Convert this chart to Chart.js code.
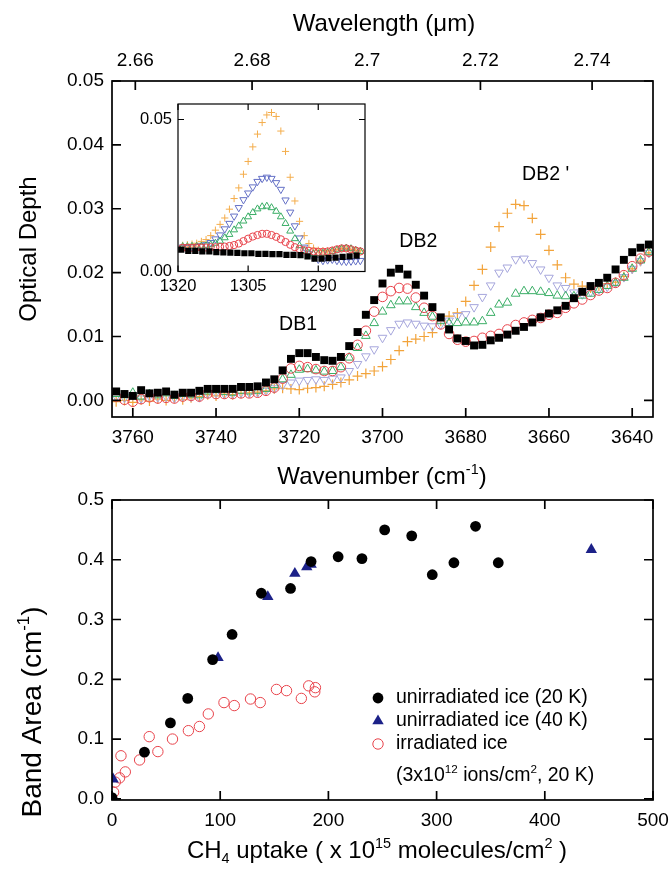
<!DOCTYPE html>
<html>
<head>
<meta charset="utf-8">
<script src="https://cdn.jsdelivr.net/npm/chart.js@4.4.1/dist/chart.umd.min.js"></script>
<style>
  html, body { margin: 0; padding: 0; background: #fff; }
  #wrap { position: relative; width: 672px; height: 871px; overflow: hidden; }
  canvas { position: absolute; }
</style>
</head>
<body>
<div id="wrap">
  <canvas id="spec" style="left:0;top:0" width="672" height="492"></canvas>
  <canvas id="area" style="left:0;top:488px" width="672" height="383"></canvas>
  <canvas id="inset" style="left:118px;top:88px" width="257" height="215"></canvas>
</div>
<script>
const FAMILY = '"Liberation Sans", Arial, sans-serif';

// ---- top panel: spectra (wavenumber in cm-1, optical depth) ----
const wavenumber = [
  3764, 3762, 3760, 3758, 3756, 3754, 3752, 3750, 3748, 3746,
  3744, 3742, 3740, 3738, 3736, 3734, 3732, 3730, 3728, 3726,
  3724, 3722, 3720, 3718, 3716, 3714, 3712, 3710, 3708, 3706,
  3704, 3702, 3700, 3698, 3696, 3694, 3692, 3690, 3688, 3686,
  3684, 3682, 3680, 3678, 3676, 3674, 3672, 3670, 3668, 3666,
  3664, 3662, 3660, 3658, 3656, 3654, 3652, 3650, 3648, 3646,
  3644, 3642, 3640, 3638, 3636
];
const odSquares = [
  0.0014, 0.0010, 0.0007, 0.0016, 0.0011, 0.0012, 0.0014, 0.0009, 0.0012, 0.0012,
  0.0015, 0.0018, 0.0018, 0.0018, 0.0018, 0.0021, 0.0021, 0.0022, 0.0028, 0.0033,
  0.0047, 0.0065, 0.0074, 0.0074, 0.0068, 0.0063, 0.0062, 0.0068, 0.0085, 0.0107,
  0.0134, 0.0157, 0.0183, 0.0200, 0.0206, 0.0197, 0.0181, 0.0164, 0.0146, 0.0130,
  0.0111, 0.0097, 0.0093, 0.0086, 0.0087, 0.0094, 0.0098, 0.0103, 0.0109, 0.0115,
  0.0122, 0.0130, 0.0136, 0.0141, 0.0148, 0.0160, 0.0170, 0.0179, 0.0184, 0.0192,
  0.0205, 0.0220, 0.0232, 0.0239, 0.0244
];
const odCircles = [
  0.0006, 0.0001, -0.0002, 0.0002, 0.0005, 0.0003, 0.0004, 0.0003, 0.0006, 0.0007,
  0.0006, 0.0011, 0.0010, 0.0010, 0.0010, 0.0011, 0.0011, 0.0012, 0.0015, 0.0020,
  0.0034, 0.0050, 0.0054, 0.0052, 0.0049, 0.0046, 0.0046, 0.0052, 0.0066, 0.0087,
  0.0109, 0.0139, 0.0162, 0.0171, 0.0176, 0.0175, 0.0161, 0.0145, 0.0132, 0.0119,
  0.0104, 0.0095, 0.0092, 0.0093, 0.0098, 0.0101, 0.0104, 0.0111, 0.0118, 0.0122,
  0.0126, 0.0129, 0.0134, 0.0137, 0.0145, 0.0152, 0.0158, 0.0165, 0.0172, 0.0176,
  0.0184, 0.0196, 0.0210, 0.0222, 0.0233
];
const odUpTri = [
  0.0010, 0.0008, 0.0012, 0.0006, 0.0010, 0.0008, 0.0011, 0.0007, 0.0010, 0.0009,
  0.0008, 0.0014, 0.0016, 0.0013, 0.0012, 0.0015, 0.0014, 0.0015, 0.0018, 0.0024,
  0.0033, 0.0040, 0.0048, 0.0049, 0.0047, 0.0045, 0.0046, 0.0052, 0.0067, 0.0082,
  0.0101, 0.0121, 0.0139, 0.0149, 0.0155, 0.0155, 0.0146, 0.0137, 0.0131, 0.0124,
  0.0121, 0.0121, 0.0122, 0.0122, 0.0124, 0.0137, 0.0150, 0.0153, 0.0167, 0.0171,
  0.0171, 0.0170, 0.0168, 0.0164, 0.0163, 0.0163, 0.0164, 0.0167, 0.0173, 0.0179,
  0.0184, 0.0192, 0.0206, 0.0219, 0.0232
];
const odDownTri = [
  0.0006, 0.0004, 0.0008, 0.0003, 0.0007, 0.0005, 0.0006, 0.0004, 0.0007, 0.0006,
  0.0005, 0.0011, 0.0012, 0.0010, 0.0010, 0.0012, 0.0012, 0.0013, 0.0015, 0.0019,
  0.0024, 0.0028, 0.0031, 0.0032, 0.0033, 0.0032, 0.0034, 0.0036, 0.0046, 0.0057,
  0.0069, 0.0080, 0.0098, 0.0110, 0.0120, 0.0122, 0.0120, 0.0117, 0.0116, 0.0119,
  0.0125, 0.0132, 0.0135, 0.0146, 0.0162, 0.0180, 0.0200, 0.0208, 0.0221, 0.0222,
  0.0215, 0.0205, 0.0192, 0.0180, 0.0176, 0.0169, 0.0166, 0.0170, 0.0174, 0.0178,
  0.0184, 0.0193, 0.0206, 0.0218, 0.0231
];
const odPlus = [
  -0.0002, 0.0000, -0.0003, 0.0001, -0.0001, 0.0002, 0.0000, 0.0003, 0.0001, 0.0004,
  0.0006, 0.0009, 0.0007, 0.0010, 0.0009, 0.0011, 0.0012, 0.0013, 0.0015, 0.0018,
  0.0019, 0.0018, 0.0017, 0.0019, 0.0020, 0.0022, 0.0025, 0.0028, 0.0032, 0.0038,
  0.0042, 0.0046, 0.0053, 0.0064, 0.0078, 0.0092, 0.0096, 0.0100, 0.0106, 0.0124,
  0.0132, 0.0137, 0.0155, 0.0180, 0.0205, 0.0240, 0.0272, 0.0293, 0.0307, 0.0305,
  0.0285, 0.0260, 0.0235, 0.0212, 0.0192, 0.0182, 0.0179, 0.0176, 0.0179, 0.0183,
  0.0185, 0.0194, 0.0206, 0.0218, 0.0231
];
const wnTicks = [3760, 3740, 3720, 3700, 3680, 3660, 3640];
const wlTicks = [2.66, 2.68, 2.70, 2.72, 2.74];
const odTicks = [0, 0.01, 0.02, 0.03, 0.04, 0.05];
const bandNames = ['DB1', 'DB2', "DB2 '"];
const bandX = [3720.3, 3691.4, 3660.8];
const bandY = [0.0119, 0.0248, 0.0354];

// ---- inset: 1300 cm-1 band ----
const insetNu = [
  1319, 1318, 1317, 1316, 1315, 1314, 1313, 1312, 1311, 1310,
  1309, 1308, 1307, 1306, 1305, 1304, 1303, 1302, 1301, 1300,
  1299, 1298, 1297, 1296, 1295, 1294, 1293, 1292, 1291, 1290,
  1289, 1288, 1287, 1286, 1285, 1284, 1283, 1282, 1281
];
const insetPlus = [
  0.0086, 0.0088, 0.0090, 0.0093, 0.0099, 0.0105, 0.0118, 0.0136, 0.0155, 0.0176,
  0.0205, 0.0240, 0.0275, 0.0320, 0.0362, 0.0410, 0.0452, 0.0490, 0.0515, 0.0523,
  0.0510, 0.0462, 0.0395, 0.0310, 0.0232, 0.0165, 0.0118, 0.0092, 0.0077, 0.0070,
  0.0068, 0.0068, 0.0070, 0.0072, 0.0075, 0.0075, 0.0072, 0.0070, 0.0068
];
const insetDownTri = [
  0.0080, 0.0080, 0.0081, 0.0082, 0.0084, 0.0088, 0.0095, 0.0107, 0.0120, 0.0140,
  0.0158, 0.0182, 0.0210, 0.0236, 0.0258, 0.0278, 0.0296, 0.0306, 0.0310, 0.0306,
  0.0292, 0.0270, 0.0235, 0.0195, 0.0150, 0.0110, 0.0080, 0.0058, 0.0046, 0.0040,
  0.0036, 0.0038, 0.0040, 0.0036, 0.0034, 0.0033, 0.0034, 0.0035, 0.0036
];
const insetUpTri = [
  0.0082, 0.0082, 0.0083, 0.0083, 0.0084, 0.0085, 0.0088, 0.0093, 0.0100, 0.0111,
  0.0122, 0.0137, 0.0150, 0.0166, 0.0180, 0.0194, 0.0206, 0.0213, 0.0215, 0.0210,
  0.0198, 0.0180, 0.0158, 0.0133, 0.0108, 0.0085, 0.0068, 0.0060, 0.0058, 0.0058,
  0.0060, 0.0062, 0.0066, 0.0071, 0.0075, 0.0077, 0.0075, 0.0070, 0.0066
];
const insetCircles = [
  0.0078, 0.0078, 0.0078, 0.0079, 0.0079, 0.0079, 0.0080, 0.0080, 0.0081, 0.0082,
  0.0084, 0.0087, 0.0092, 0.0100, 0.0108, 0.0115, 0.0120, 0.0124, 0.0124, 0.0120,
  0.0114, 0.0106, 0.0097, 0.0088, 0.0080, 0.0074, 0.0070, 0.0068, 0.0066, 0.0065,
  0.0065, 0.0066, 0.0069, 0.0073, 0.0076, 0.0076, 0.0073, 0.0069, 0.0066
];
const insetSqNu = [
  1319.3, 1317.8, 1316.3, 1314.8, 1313.3, 1311.8, 1310.3, 1308.8, 1307.3, 1305.8,
  1304.3, 1302.8, 1301.3, 1299.8, 1298.3, 1296.8, 1295.3, 1293.8, 1292.3, 1290.8,
  1289.3, 1287.8, 1286.3, 1284.8, 1283.3, 1281.8
];
const insetSquares = [
  0.0072, 0.0068, 0.0068, 0.0066, 0.0066, 0.0064, 0.0063, 0.0062, 0.0061, 0.0060,
  0.0060, 0.0058, 0.0058, 0.0057, 0.0057, 0.0055, 0.0055, 0.0054, 0.0050, 0.0042,
  0.0042, 0.0044, 0.0046, 0.0048, 0.0050, 0.0052
];
const insetXTicks = [1320, 1305, 1290];
const insetYTicks = [0, 0.05];

// ---- bottom panel: band area vs CH4 uptake ----
const uptake20K = [0, 30, 54, 70, 93, 111, 138, 165, 184, 209, 231, 252, 277, 296, 316, 336, 357];
const area20K = [0.002, 0.078, 0.127, 0.168, 0.233, 0.275, 0.344, 0.352, 0.397, 0.405, 0.402, 0.450, 0.440, 0.375, 0.395, 0.456, 0.395];
const uptake40K = [1, 98, 144, 169, 180, 184, 443];
const area40K = [0.033, 0.236, 0.338, 0.377, 0.388, 0.392, 0.417];
const uptakeIrr = [1.5, 3, 7, 8.3, 12.3, 25.5, 34.4, 42.4, 55.9, 70.6, 80.8, 89, 103.5, 113, 128, 137, 152, 161.3, 175, 181.8, 187.4, 188];
const areaIrr = [0.011, 0.028, 0.035, 0.072, 0.045, 0.065, 0.104, 0.079, 0.100, 0.114, 0.121, 0.142, 0.161, 0.156, 0.167, 0.161, 0.183, 0.181, 0.168, 0.189, 0.179, 0.186];
const uptakeTicks = [0, 100, 200, 300, 400, 500];
const areaTicks = [0, 0.1, 0.2, 0.3, 0.4, 0.5];
const legendNames = ['unirradiated ice (20 K)', 'unirradiated ice (40 K)', 'irradiated ice'];

function points(xs, ys) {
  return xs.map((x, i) => ({ x: x, y: ys[i] }));
}

function richWidth(ctx, parts, size) {
  let total = 0;
  parts.forEach(p => {
    ctx.font = (p[1] ? size * 0.6 : size).toFixed(1) + 'px ' + FAMILY;
    total += ctx.measureText(p[0]).width;
  });
  return total;
}

// centred text with super/subscript pieces: [text, 0 | 1 (sup) | -1 (sub)]
function drawRich(ctx, parts, x, y, size) {
  let cx = x - richWidth(ctx, parts, size) / 2;
  ctx.textAlign = 'left';
  ctx.textBaseline = 'alphabetic';
  parts.forEach(p => {
    ctx.font = (p[1] ? size * 0.6 : size).toFixed(1) + 'px ' + FAMILY;
    const dy = p[1] === 1 ? -size * 0.42 : (p[1] === -1 ? size * 0.22 : 0);
    ctx.fillText(p[0], cx, y + dy);
    cx += ctx.measureText(p[0]).width;
  });
}

// frame round the plot, ticks pointing inwards, and free text
const decor = {
  id: 'decor',
  afterDraw(chart, args, opts) {
    const ctx = chart.ctx;
    const a = chart.chartArea;
    ctx.save();
    ctx.strokeStyle = '#000';
    ctx.lineWidth = opts.lineWidth;
    ctx.strokeRect(a.left, a.top, a.right - a.left, a.bottom - a.top);
    ctx.beginPath();
    const len = opts.tickLength;
    Object.values(chart.scales).forEach(s => {
      s.ticks.forEach(t => {
        const p = s.getPixelForValue(t.value);
        if (s.isHorizontal()) {
          if (s.position === 'bottom' || opts.mirrorX) {
            ctx.moveTo(p, a.bottom); ctx.lineTo(p, a.bottom - len);
          }
          if (s.position === 'top' || opts.mirrorX) {
            ctx.moveTo(p, a.top); ctx.lineTo(p, a.top + len);
          }
        } else {
          ctx.moveTo(a.left, p); ctx.lineTo(a.left + len, p);
          ctx.moveTo(a.right, p); ctx.lineTo(a.right - len, p);
        }
      });
    });
    ctx.stroke();
    ctx.fillStyle = '#000';
    (opts.titles || []).forEach(t => {
      ctx.save();
      ctx.translate(t.x, t.y);
      if (t.rotate) ctx.rotate(-Math.PI / 2);
      drawRich(ctx, t.parts, 0, 0, t.size);
      ctx.restore();
    });
    (opts.notes || []).forEach(n => {
      ctx.font = n.size + 'px ' + FAMILY;
      ctx.textAlign = 'center';
      ctx.textBaseline = 'middle';
      ctx.fillText(n.text, chart.scales.x.getPixelForValue(n.x), chart.scales.y.getPixelForValue(n.y));
    });
    if (opts.legend) {
      const L = opts.legend;
      chart.data.datasets.forEach((ds, i) => {
        const y = L.y + i * L.gap;
        ctx.fillStyle = ds.pointBackgroundColor;
        ctx.strokeStyle = ds.pointBorderColor;
        ctx.lineWidth = ds.pointBorderWidth || 1;
        ctx.beginPath();
        if (ds.pointStyle === 'triangle') {
          const r = ds.pointRadius;
          ctx.moveTo(L.x, y - r);
          ctx.lineTo(L.x + r * 0.866, y + r * 0.5);
          ctx.lineTo(L.x - r * 0.866, y + r * 0.5);
          ctx.closePath();
        } else {
          ctx.arc(L.x, y, ds.pointRadius, 0, Math.PI * 2);
        }
        ctx.fill();
        if (ds.pointBorderWidth) ctx.stroke();
        ctx.fillStyle = '#000';
        ctx.font = L.size + 'px ' + FAMILY;
        ctx.textAlign = 'left';
        ctx.textBaseline = 'middle';
        ctx.fillText(legendNames[i], L.x + 18, y);
      });
      // second line of the third entry
      const w = richWidth(ctx, L.extra.parts, L.size);
      drawRich(ctx, L.extra.parts, L.x + 18 + w / 2, L.extra.y, L.size);
    }
    ctx.restore();
  }
};

function fixTicks(values) {
  return s => { s.ticks = values.map(v => ({ value: v })); };
}
function fixSize(prop, size) {
  return s => {
    s[prop] = size;
    s.paddingLeft = 0; s.paddingRight = 0; s.paddingTop = 0; s.paddingBottom = 0;
  };
}
function tickFont(size) {
  return { family: FAMILY, size: size };
}
const noGrid = { display: false, drawTicks: false };

const common = {
  responsive: false,
  animation: false,
  events: [],
  plugins: { legend: { display: false }, tooltip: { enabled: false } }
};

// ---- spectra ----
new Chart(document.getElementById('spec'), {
  type: 'scatter',
  data: {
    datasets: [
      { data: points(wavenumber, odSquares), pointStyle: 'rect', pointRadius: 5.6,
        pointBackgroundColor: '#000', pointBorderColor: '#000', pointBorderWidth: 0 },
      { data: points(wavenumber, odCircles), pointStyle: 'circle', pointRadius: 4.8,
        pointBackgroundColor: 'rgba(0,0,0,0)', pointBorderColor: '#e8434b', pointBorderWidth: 1 },
      { data: points(wavenumber, odUpTri), pointStyle: 'triangle', pointRadius: 5,
        pointBackgroundColor: 'rgba(0,0,0,0)', pointBorderColor: '#3aae66', pointBorderWidth: 1 },
      { data: points(wavenumber, odDownTri), pointStyle: 'triangle', pointRotation: 180, pointRadius: 5,
        pointBackgroundColor: 'rgba(0,0,0,0)', pointBorderColor: '#a6a6dc', pointBorderWidth: 1 },
      { data: points(wavenumber, odPlus), pointStyle: 'cross', pointRadius: 5,
        pointBackgroundColor: 'rgba(0,0,0,0)', pointBorderColor: '#f2a33a', pointBorderWidth: 1.2 }
    ]
  },
  options: Object.assign({}, common, {
    layout: { padding: { left: 0, right: 19, top: 0, bottom: 0 } },
    scales: {
      x: {
        type: 'linear', position: 'bottom', min: 3635, max: 3765, reverse: true,
        grid: noGrid, border: { display: false },
        afterBuildTicks: fixTicks(wnTicks), afterFit: fixSize('height', 75),
        ticks: { font: tickFont(19), color: '#000', padding: 9, autoSkip: false, maxRotation: 0,
                 callback: v => String(v) }
      },
      x2: {
        type: 'linear', position: 'top', min: 3635, max: 3765, reverse: true,
        grid: noGrid, border: { display: false },
        afterBuildTicks: s => { s.ticks = wlTicks.map(l => ({ value: 1e4 / l })); },
        afterFit: fixSize('height', 81),
        ticks: { font: tickFont(19), color: '#000', padding: 9, autoSkip: false, maxRotation: 0,
                 callback: (v, i) => String(wlTicks[i]) }
      },
      y: {
        type: 'linear', min: -0.0026, max: 0.05,
        grid: noGrid, border: { display: false },
        afterBuildTicks: fixTicks(odTicks), afterFit: fixSize('width', 112),
        ticks: { font: tickFont(19), color: '#000', padding: 8, callback: v => v.toFixed(2) }
      }
    },
    plugins: Object.assign({}, common.plugins, {
      decor: {
        lineWidth: 1.7, tickLength: 9, mirrorX: false,
        titles: [
          { parts: [['Wavelength (\u03bcm)', 0]], x: 384, y: 31, size: 24 },
          { parts: [['Wavenumber (cm', 0], ['-1', 1], [')', 0]], x: 382, y: 484, size: 24 },
          { parts: [['Optical Depth', 0]], x: 36, y: 249, size: 24, rotate: true }
        ],
        notes: bandNames.map((t, i) => ({ text: t, x: bandX[i], y: bandY[i], size: 19.5 }))
      }
    })
  }),
  plugins: [decor]
});

// ---- inset ----
new Chart(document.getElementById('inset'), {
  type: 'scatter',
  data: {
    datasets: [
      { data: points(insetSqNu, insetSquares), pointStyle: 'rect', pointRadius: 4.4,
        pointBackgroundColor: '#000', pointBorderColor: '#000', pointBorderWidth: 0 },
      { data: points(insetNu, insetCircles), pointStyle: 'circle', pointRadius: 3.6,
        pointBackgroundColor: 'rgba(0,0,0,0)', pointBorderColor: '#e8434b', pointBorderWidth: 1 },
      { data: points(insetNu, insetUpTri), pointStyle: 'triangle', pointRadius: 4,
        pointBackgroundColor: 'rgba(0,0,0,0)', pointBorderColor: '#3aae66', pointBorderWidth: 1 },
      { data: points(insetNu, insetDownTri), pointStyle: 'triangle', pointRotation: 180, pointRadius: 4.2,
        pointBackgroundColor: 'rgba(0,0,0,0)', pointBorderColor: '#6470c6', pointBorderWidth: 1 },
      { data: points(insetNu, insetPlus), pointStyle: 'cross', pointRadius: 3.6,
        pointBackgroundColor: 'rgba(0,0,0,0)', pointBorderColor: '#f4ad4c', pointBorderWidth: 1 }
    ]
  },
  options: Object.assign({}, common, {
    layout: { padding: { left: 0, right: 10, top: 16, bottom: 0 } },
    scales: {
      x: {
        type: 'linear', position: 'bottom', min: 1280, max: 1320, reverse: true,
        grid: noGrid, border: { display: false },
        afterBuildTicks: fixTicks(insetXTicks), afterFit: fixSize('height', 31.5),
        ticks: { font: tickFont(16.5), color: '#000', padding: 5, autoSkip: false, maxRotation: 0,
                 callback: v => String(v) }
      },
      y: {
        type: 'linear', min: 0, max: 0.0551,
        grid: noGrid, border: { display: false },
        afterBuildTicks: fixTicks(insetYTicks), afterFit: fixSize('width', 60),
        ticks: { font: tickFont(16.5), color: '#000', padding: 6, callback: v => v.toFixed(2) }
      }
    },
    plugins: Object.assign({}, common.plugins, {
      decor: { lineWidth: 1.2, tickLength: 6, mirrorX: true }
    })
  }),
  plugins: [decor]
});

// ---- band area ----
new Chart(document.getElementById('area'), {
  type: 'scatter',
  data: {
    datasets: [
      { data: points(uptake20K, area20K), pointStyle: 'circle', pointRadius: 5.4,
        pointBackgroundColor: '#000', pointBorderColor: '#000', pointBorderWidth: 0 },
      { data: points(uptake40K, area40K), pointStyle: 'triangle', pointRadius: 6.6,
        pointBackgroundColor: '#1c2188', pointBorderColor: '#1c2188', pointBorderWidth: 0 },
      { data: points(uptakeIrr, areaIrr), pointStyle: 'circle', pointRadius: 5.2,
        pointBackgroundColor: 'rgba(0,0,0,0)', pointBorderColor: '#e8434b', pointBorderWidth: 1 }
    ]
  },
  options: Object.assign({}, common, {
    layout: { padding: { left: 0, right: 19, top: 12, bottom: 0 } },
    scales: {
      x: {
        type: 'linear', position: 'bottom', min: 0, max: 500,
        grid: noGrid, border: { display: false },
        afterBuildTicks: fixTicks(uptakeTicks), afterFit: fixSize('height', 71),
        ticks: { font: tickFont(19), color: '#000', padding: 9, autoSkip: false, maxRotation: 0,
                 callback: v => String(v) }
      },
      y: {
        type: 'linear', min: -0.002, max: 0.5,
        grid: noGrid, border: { display: false },
        afterBuildTicks: fixTicks(areaTicks), afterFit: fixSize('width', 112),
        ticks: { font: tickFont(19), color: '#000', padding: 8, callback: v => v.toFixed(1) }
      }
    },
    plugins: Object.assign({}, common.plugins, {
      decor: {
        lineWidth: 1.7, tickLength: 9, mirrorX: true,
        titles: [
          { parts: [['Band Area (cm', 0], ['-1', 1], [')', 0]], x: 41, y: 224, size: 28, rotate: true },
          { parts: [['CH', 0], ['4', -1], [' uptake ( x 10', 0], ['15', 1], [' molecules/cm', 0], ['2', 1], [' )', 0]],
            x: 377, y: 370, size: 24 }
        ],
        legend: {
          x: 378, y: 210, gap: 23, size: 19.5,
          extra: { y: 293, parts: [['(3x10', 0], ['12', 1], [' ions/cm', 0], ['2', 1], [', 20 K)', 0]] }
        }
      }
    })
  }),
  plugins: [decor]
});
</script>
</body>
</html>
